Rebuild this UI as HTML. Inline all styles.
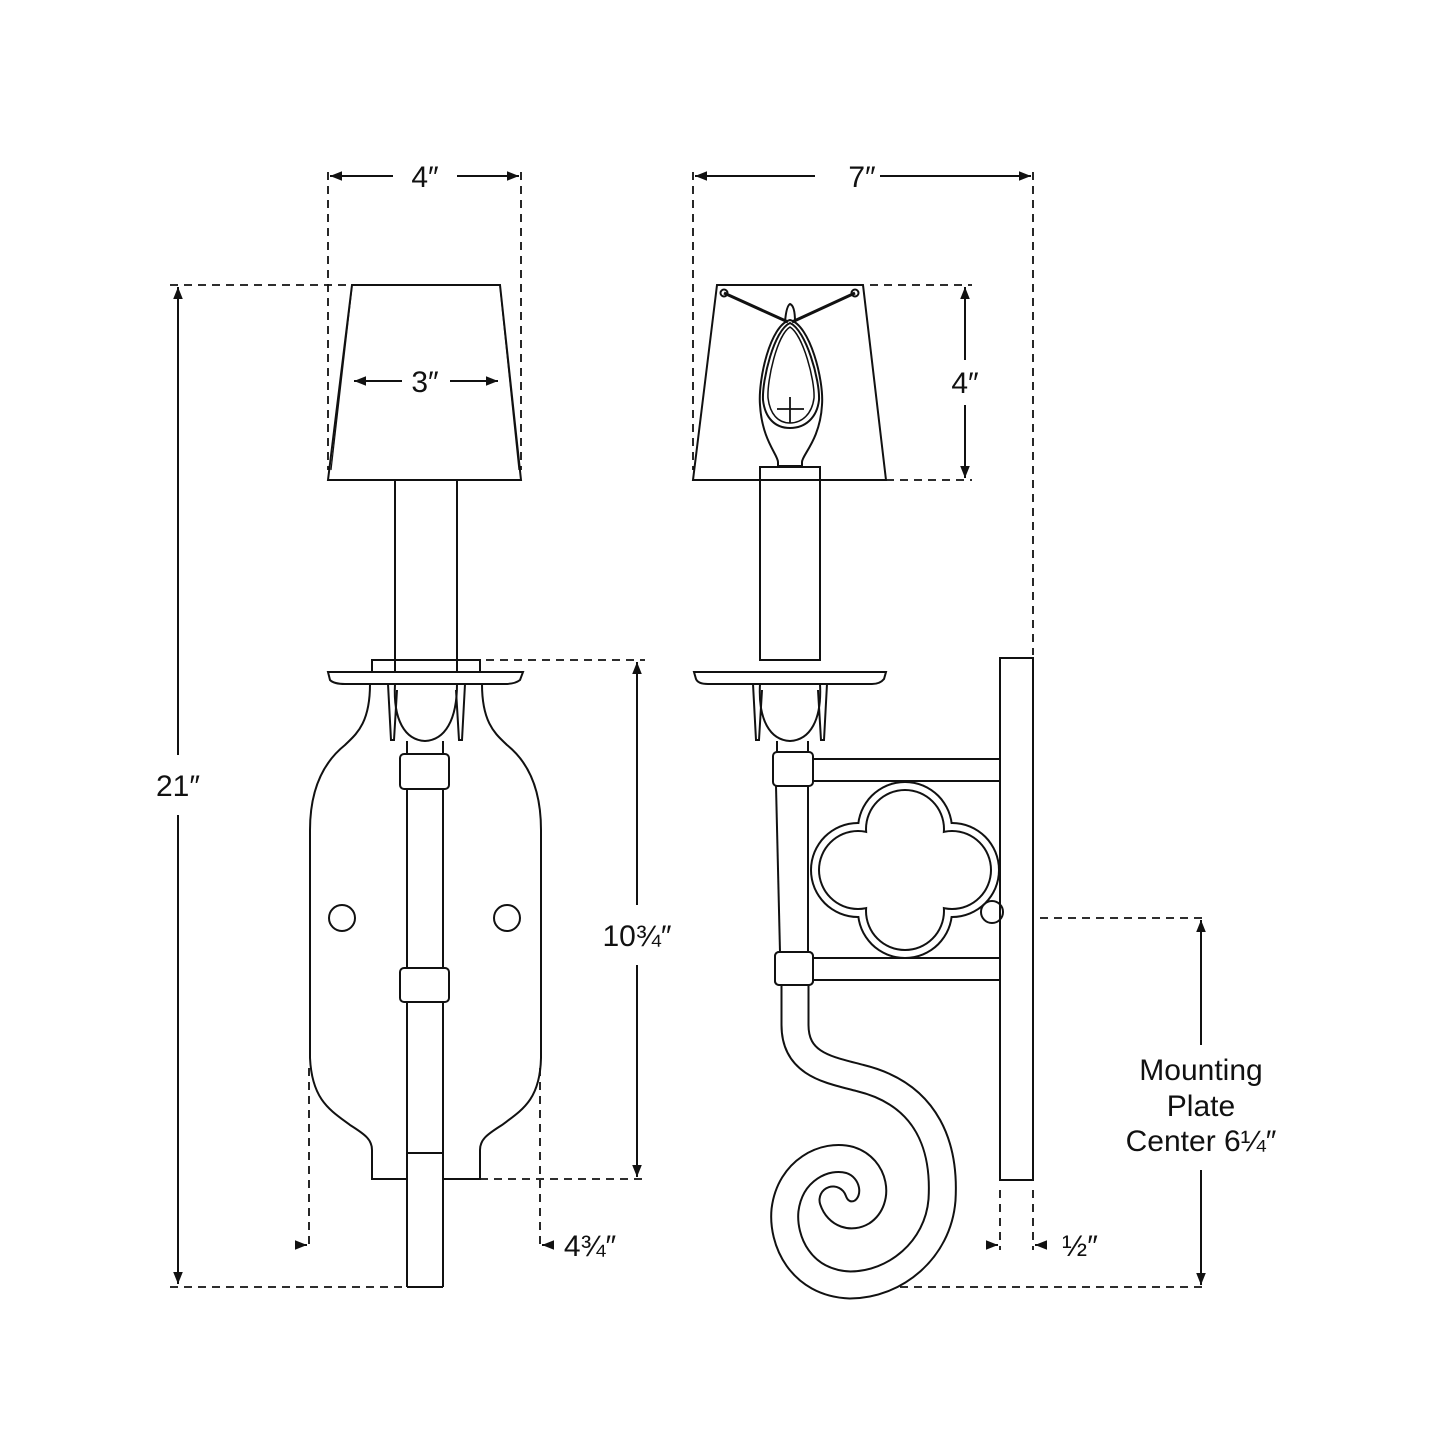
<!DOCTYPE html>
<html><head><meta charset="utf-8"><style>
html,body{margin:0;padding:0;background:#fff}
svg{display:block}
text{font-family:"Liberation Sans",sans-serif;fill:#111}
</style></head><body>
<svg width="1445" height="1445" viewBox="0 0 1445 1445" xmlns="http://www.w3.org/2000/svg">
<defs>
<marker id="a" viewBox="0 0 10 10" refX="10" refY="5" markerWidth="12" markerHeight="12" markerUnits="userSpaceOnUse" orient="auto-start-reverse"><path d="M0,1 L10,5 L0,9 Z" fill="#111"/></marker>
</defs>
<g fill="none" stroke="#111" stroke-width="2">
<g stroke-dasharray="8,6" stroke-width="1.8">
<line x1="328" y1="172" x2="328" y2="470"/>
<line x1="521" y1="172" x2="521" y2="470"/>
<line x1="170" y1="285" x2="350" y2="285"/>
<line x1="170" y1="1287" x2="408" y2="1287"/>
<line x1="458" y1="660" x2="645" y2="660"/>
<line x1="480" y1="1179" x2="645" y2="1179"/>
<line x1="309" y1="1068" x2="309" y2="1247"/>
<line x1="540" y1="1068" x2="540" y2="1247"/>
<line x1="693" y1="172" x2="693" y2="470"/>
<line x1="1033" y1="172" x2="1033" y2="655"/>
<line x1="870" y1="285" x2="972" y2="285"/>
<line x1="886" y1="480" x2="972" y2="480"/>
<line x1="1000" y1="1190" x2="1000" y2="1250"/>
<line x1="1033" y1="1190" x2="1033" y2="1250"/>
<line x1="1040" y1="918" x2="1206" y2="918"/>
<line x1="872" y1="1287" x2="1206" y2="1287"/>
</g>
<line x1="330" y1="176" x2="393" y2="176" marker-start="url(#a)"/>
<line x1="457" y1="176" x2="519" y2="176" marker-end="url(#a)"/>
<line x1="354" y1="381" x2="402" y2="381" marker-start="url(#a)"/>
<line x1="450" y1="381" x2="498" y2="381" marker-end="url(#a)"/>
<line x1="178" y1="287" x2="178" y2="755" marker-start="url(#a)"/>
<line x1="178" y1="815" x2="178" y2="1284" marker-end="url(#a)"/>
<line x1="637" y1="662" x2="637" y2="905" marker-start="url(#a)"/>
<line x1="637" y1="965" x2="637" y2="1177" marker-end="url(#a)"/>
<line x1="295" y1="1245" x2="307" y2="1245" marker-end="url(#a)"/>
<line x1="554" y1="1245" x2="542" y2="1245" marker-end="url(#a)"/>
<line x1="695" y1="176" x2="815" y2="176" marker-start="url(#a)"/>
<line x1="880" y1="176" x2="1031" y2="176" marker-end="url(#a)"/>
<line x1="965" y1="287" x2="965" y2="360" marker-start="url(#a)"/>
<line x1="965" y1="405" x2="965" y2="478" marker-end="url(#a)"/>
<line x1="986" y1="1245" x2="998" y2="1245" marker-end="url(#a)"/>
<line x1="1047" y1="1245" x2="1035" y2="1245" marker-end="url(#a)"/>
<line x1="1201" y1="920" x2="1201" y2="1045" marker-start="url(#a)"/>
<line x1="1201" y1="1170" x2="1201" y2="1285" marker-end="url(#a)"/>

<path d="M352,285 L500,285 L521,480 L328,480 Z"/>
<path d="M352,287 L331,470 M500,287 L519,470" stroke-width="1.2"/>
<rect x="395" y="480" width="62" height="180"/>
<rect x="372" y="660" width="23" height="12"/><rect x="457" y="660" width="23" height="12"/>
<path d="M328,672 L523,672 L520,680 Q515,684 505,684 L345,684 Q334,684 330,680 Z"/>
<path d="M370,684 C370,725 355,735 345,745 C320,765 310,795 310,830 L310,1058 C312,1100 330,1110 350,1125 C366,1135 372,1140 372,1150 L372,1179 L407,1179 M442,1179 L480,1179 L480,1150 C480,1140 486,1135 502,1125 C522,1110 540,1100 541,1058 L541,830 C541,795 532,765 507,745 C497,735 482,725 482,684"/>
<path d="M395,684 C393,720 405,740 425,741 C445,740 457,720 457,684"/>
<path d="M388,684 L391,740 L394,740 L397,690"/><path d="M465,684 L462,740 L459,740 L456,690"/>
<line x1="407" y1="741" x2="407" y2="755"/><line x1="443" y1="741" x2="443" y2="755"/>
<rect x="400" y="754" width="49" height="35" rx="4"/>
<line x1="407" y1="789" x2="407" y2="968"/><line x1="443" y1="789" x2="443" y2="968"/>
<rect x="400" y="968" width="49" height="34" rx="4"/>
<line x1="407" y1="1002" x2="407" y2="1287"/><line x1="443" y1="1002" x2="443" y2="1287"/>
<line x1="407" y1="1153" x2="443" y2="1153"/><line x1="407" y1="1287" x2="443" y2="1287"/>
<circle cx="342" cy="918" r="13"/><circle cx="507" cy="918" r="13"/>

<path d="M717,285 L863,285 L886,480 L693,480 Z"/>
<path d="M724,293 L788,322 M855,293 L792,322" stroke-width="3"/>
<circle cx="724" cy="293" r="3.5"/><circle cx="855" cy="293" r="3.5"/>
<path d="M785,322 C786,310 788,305 790,304 C793,305 795,310 795,322"/>
<path d="M790,320 C770,325 758,380 760,405 C762,440 778,455 778,462 L778,466 L802,466 L802,462 C802,455 820,440 822,405 C824,380 810,325 790,320 Z"/>
<path d="M790,323 C774,330 762,380 763,400 C765,418 775,428 790,428 C805,428 817,418 819,400 C820,380 806,330 790,323 Z"/>
<path d="M790,327 C777,335 767,380 768,398 C770,414 778,423 790,423 C802,423 812,414 814,398 C815,380 803,335 790,327 Z" stroke-width="1.5"/>
<path d="M777,409 L804,409 M790,397 L790,423" stroke-width="1.8"/>
<rect x="760" y="467" width="60" height="193"/>
<path d="M694,672 L886,672 L884,679 Q880,684 872,684 L708,684 Q698,684 696,679 Z"/>
<path d="M760,684 C758,720 770,740 790,741 C810,740 822,720 820,684"/>
<path d="M753,684 L756,740 L759,740 L762,690"/><path d="M827,684 L824,740 L821,740 L818,690"/>
<line x1="777" y1="741" x2="777" y2="753"/><line x1="808" y1="741" x2="808" y2="753"/>
<rect x="773" y="752" width="40" height="34" rx="4"/>
<rect x="813" y="759" width="187" height="22"/>
<line x1="776" y1="786" x2="780" y2="952"/><line x1="808" y1="786" x2="808" y2="952"/>
<rect x="775" y="952" width="38" height="33" rx="4"/>
<rect x="813" y="958" width="187" height="22"/>
<rect x="1000" y="658" width="33" height="522"/>
<circle cx="992" cy="912" r="11"/>
<path d="M795,985 L795,1025 C795,1065 830,1070 860,1078 C930,1095 945,1150 942,1200 C938,1250 895,1285 850,1285 C800,1283 782,1240 785,1210 C790,1170 825,1153 850,1160 C875,1168 880,1200 862,1212 C852,1218 838,1215 833,1200" stroke="#111" stroke-width="29" stroke-linecap="round"/>
<path d="M795,984 L795,1025 C795,1065 830,1070 860,1078 C930,1095 945,1150 942,1200 C938,1250 895,1285 850,1285 C800,1283 782,1240 785,1210 C790,1170 825,1153 850,1160 C875,1168 880,1200 862,1212 C852,1218 838,1215 833,1200" stroke="#fff" stroke-width="25" stroke-linecap="round"/>
<rect x="775" y="952" width="38" height="33" rx="4" fill="#fff"/>
</g>
<g>
<g fill="#111"><circle cx="905" cy="829" r="48"/><circle cx="905" cy="911" r="48"/><circle cx="858" cy="870" r="48"/><circle cx="952" cy="870" r="48"/></g>
<g fill="#fff"><circle cx="905" cy="829" r="46"/><circle cx="905" cy="911" r="46"/><circle cx="858" cy="870" r="46"/><circle cx="952" cy="870" r="46"/></g>
<g fill="#111"><circle cx="905" cy="829" r="40"/><circle cx="905" cy="911" r="40"/><circle cx="858" cy="870" r="40"/><circle cx="952" cy="870" r="40"/></g>
<g fill="#fff"><circle cx="905" cy="829" r="38"/><circle cx="905" cy="911" r="38"/><circle cx="858" cy="870" r="38"/><circle cx="952" cy="870" r="38"/></g>
<rect x="868" y="834" width="74" height="72" fill="#fff"/>
</g>
<line x1="1000" y1="658" x2="1000" y2="1180" stroke="#111" stroke-width="2"/>
<g font-size="30" text-anchor="middle">
<text x="425" y="187">4″</text>
<text x="425" y="392">3″</text>
<text x="178" y="796">21″</text>
<text x="637" y="946">10¾″</text>
<text x="590" y="1256">4¾″</text>
<text x="862" y="187">7″</text>
<text x="965" y="393">4″</text>
<text x="1080" y="1256">½″</text>
<text x="1201" y="1080">Mounting</text>
<text x="1201" y="1116">Plate</text>
<text x="1201" y="1151">Center 6¼″</text>
</g>
</svg>
</body></html>
